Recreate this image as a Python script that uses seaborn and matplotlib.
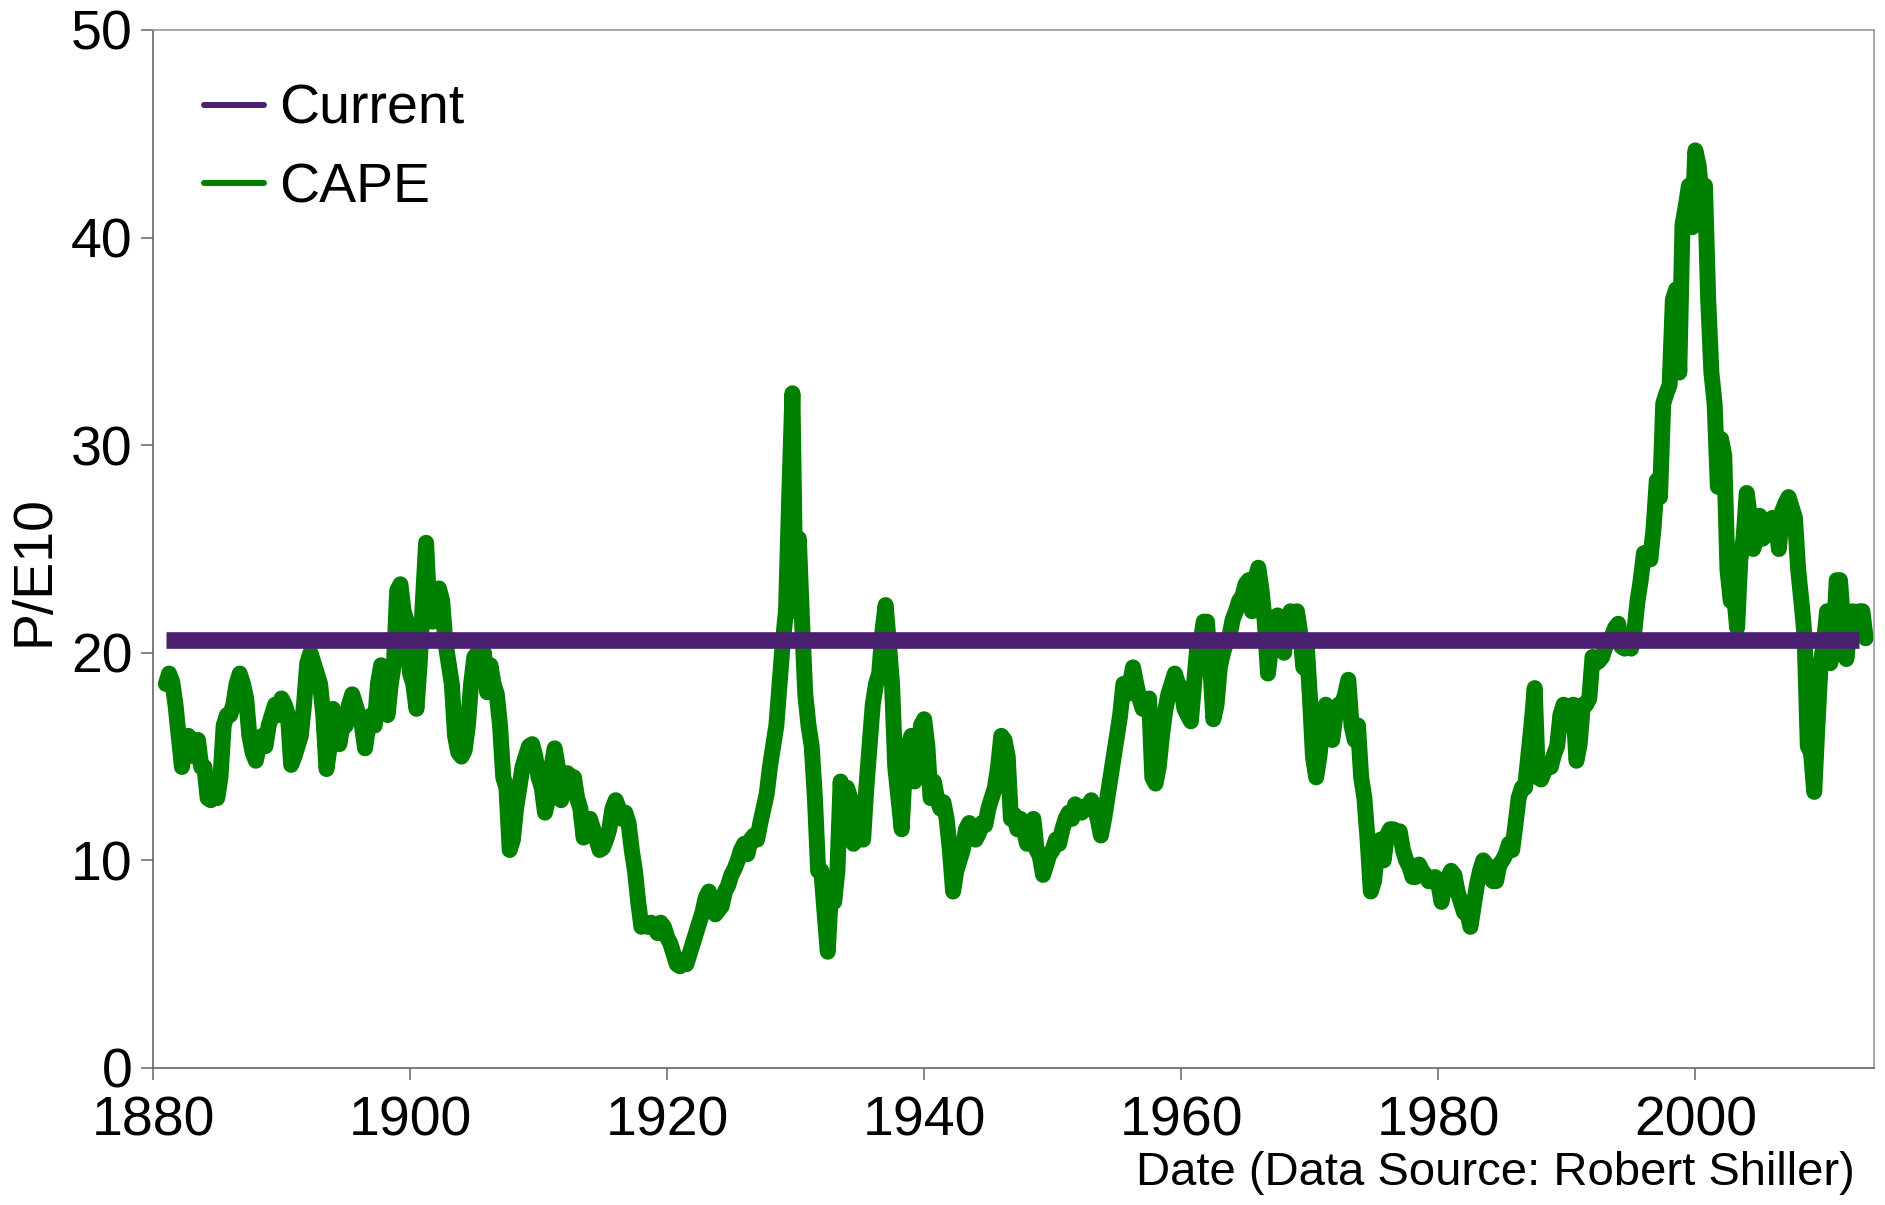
import numpy as np
import seaborn as sns
import matplotlib.pyplot as plt
from matplotlib.lines import Line2D

# Shiller CAPE (P/E10), quarterly readings starting Jan 1881
start_year = 1881
cape = [
    18.5, 19.0, 18.6, 17.5,  # 1881
    16.0, 14.5, 15.5, 16.0,  # 1882
    15.8, 15.0, 15.8, 14.5,  # 1883
    14.5, 13.0, 12.9, 13.3,  # 1884
    13.0, 14.0, 16.5, 17.0,  # 1885
    17.0, 17.5, 18.5, 19.0,  # 1886
    18.5, 17.8, 16.0, 15.2,  # 1887
    14.8, 15.5, 16.0, 15.5,  # 1888
    16.5, 17.0, 17.5, 17.0,  # 1889
    17.8, 17.5, 17.0, 14.6,  # 1890
    15.0, 15.5, 16.0, 17.5,  # 1891
    19.5, 20.0, 19.5, 19.0,  # 1892
    18.5, 17.0, 14.4, 15.5,  # 1893
    17.3, 16.5, 15.6, 16.5,  # 1894
    16.5, 17.5, 18.0, 17.5,  # 1895
    17.0, 16.5, 15.4, 16.5,  # 1896
    17.0, 16.5, 18.5, 19.4,  # 1897
    18.0, 17.0, 18.5, 19.5,  # 1898
    23.0, 23.3, 22.0, 21.5,  # 1899
    19.0, 18.5, 17.3, 19.5,  # 1900
    22.5, 25.3, 22.0, 21.5,  # 1901
    22.5, 23.1, 22.5, 20.5,  # 1902
    19.5, 18.5, 16.0, 15.2,  # 1903
    15.0, 15.3, 16.5, 18.5,  # 1904
    19.8, 20.0, 19.5, 20.0,  # 1905
    18.1, 19.4, 18.5, 18.0,  # 1906
    16.5, 14.0, 13.5, 10.5,  # 1907
    11.0, 12.5, 13.5, 14.5,  # 1908
    15.0, 15.5, 15.6, 15.0,  # 1909
    14.0, 13.5, 12.3, 13.0,  # 1910
    14.5, 15.4, 14.5, 12.9,  # 1911
    13.5, 14.2, 14.0, 14.0,  # 1912
    13.0, 12.5, 11.1, 12.0,  # 1913
    12.0, 11.5, 11.0, 10.5,  # 1914
    10.6, 11.0, 11.5, 12.5,  # 1915
    12.9, 12.5, 12.0, 12.3,  # 1916
    11.8, 10.5, 9.5, 8.0,    # 1917
    6.8, 7.0, 6.8, 7.0,      # 1918
    6.8, 6.5, 7.0, 6.8,      # 1919
    6.3, 6.0, 5.5, 5.0,      # 1920
    4.9, 5.2, 5.0, 5.5,      # 1921
    6.0, 6.5, 7.0, 7.5,      # 1922
    8.2, 8.5, 7.8, 7.4,      # 1923
    7.6, 7.8, 8.5, 8.8,      # 1924
    9.3, 9.6, 10.0, 10.5,    # 1925
    10.8, 10.3, 11.0, 11.2,  # 1926
    11.0, 11.8, 12.5, 13.2,  # 1927
    14.5, 15.5, 16.5, 18.5,  # 1928
    20.5, 22.0, 27.5, 32.5,  # 1929
    22.0, 25.5, 21.5, 18.0,  # 1930
    16.5, 15.5, 13.0, 9.5,   # 1931
    9.5, 7.5, 5.6, 8.5,      # 1932
    8.0, 9.5, 13.8, 11.5,    # 1933
    13.5, 13.0, 10.8, 11.0,  # 1934
    11.5, 11.0, 13.5, 15.5,  # 1935
    17.5, 18.5, 19.0, 21.0,  # 1936
    22.3, 20.5, 18.5, 14.5,  # 1937
    13.0, 11.5, 14.5, 15.5,  # 1938
    16.0, 13.8, 14.5, 16.5,  # 1939
    16.8, 15.5, 13.0, 13.8,  # 1940
    13.0, 12.5, 12.8, 12.0,  # 1941
    10.5, 8.5, 9.5, 10.0,    # 1942
    10.5, 11.5, 11.8, 11.3,  # 1943
    11.0, 11.3, 11.8, 11.7,  # 1944
    12.5, 13.0, 13.5, 14.5,  # 1945
    16.0, 15.8, 15.0, 12.0,  # 1946
    12.2, 11.5, 12.0, 11.5,  # 1947
    10.8, 11.5, 12.0, 10.5,  # 1948
    10.2, 9.3, 9.8, 10.3,    # 1949
    10.5, 11.0, 10.8, 11.5,  # 1950
    12.0, 12.3, 12.0, 12.7,  # 1951
    12.5, 12.3, 12.6, 12.5,  # 1952
    12.9, 12.5, 12.0, 11.2,  # 1953
    12.0, 13.0, 14.0, 15.0,  # 1954
    16.0, 17.0, 18.5, 18.0,  # 1955
    18.5, 19.3, 18.5, 17.8,  # 1956
    17.3, 17.5, 17.8, 14.0,  # 1957
    13.7, 14.5, 16.0, 17.2,  # 1958
    18.0, 18.5, 19.0, 18.5,  # 1959
    18.3, 17.3, 17.0, 16.7,  # 1960
    18.5, 20.3, 20.5, 21.5,  # 1961
    21.5, 19.5, 16.8, 17.5,  # 1962
    19.3, 20.0, 20.5, 20.8,  # 1963
    21.6, 22.0, 22.5, 22.7,  # 1964
    23.3, 23.5, 22.0, 23.5,  # 1965
    24.1, 23.0, 21.5, 19.0,  # 1966
    20.4, 21.5, 21.8, 21.0,  # 1967
    20.0, 21.5, 22.0, 21.8,  # 1968
    22.0, 21.0, 19.3, 20.5,  # 1969
    18.0, 15.0, 14.0, 15.0,  # 1970
    16.5, 17.5, 16.0, 15.8,  # 1971
    17.0, 17.5, 17.5, 18.0,  # 1972
    18.7, 16.5, 15.8, 16.5,  # 1973
    14.0, 13.0, 11.0, 8.5,   # 1974
    9.0, 10.5, 11.0, 10.0,   # 1975
    11.2, 11.5, 11.5, 11.2,  # 1976
    11.4, 10.5, 10.0, 9.7,   # 1977
    9.2, 9.2, 9.8, 9.5,      # 1978
    9.3, 9.0, 9.0, 9.2,      # 1979
    8.9, 8.0, 8.8, 9.2,      # 1980
    9.5, 9.3, 8.5, 8.0,      # 1981
    7.5, 7.5, 6.8, 7.8,      # 1982
    8.8, 9.5, 10.0, 9.8,     # 1983
    9.5, 9.0, 9.0, 9.8,      # 1984
    10.0, 10.3, 10.8, 10.5,  # 1985
    11.7, 13.0, 13.5, 13.5,  # 1986
    15.0, 16.5, 18.3, 14.0,  # 1987
    13.9, 14.3, 14.5, 14.5,  # 1988
    15.1, 15.5, 17.0, 17.5,  # 1989
    17.1, 16.5, 17.5, 14.8,  # 1990
    15.6, 17.5, 17.5, 17.8,  # 1991
    19.8, 19.5, 19.6, 19.8,  # 1992
    20.3, 20.5, 20.8, 21.2,  # 1993
    21.4, 20.3, 20.2, 20.5,  # 1994
    20.2, 21.0, 22.5, 23.5,  # 1995
    24.8, 24.5, 24.5, 26.0,  # 1996
    28.3, 27.5, 32.0, 32.5,  # 1997
    32.9, 37.0, 37.5, 33.5,  # 1998
    40.6, 41.5, 42.5, 40.5,  # 1999
    44.2, 43.5, 42.0, 42.5,  # 2000
    37.0, 33.5, 32.0, 28.0,  # 2001
    30.3, 29.5, 24.0, 22.5,  # 2002
    22.9, 21.2, 24.5, 25.5,  # 2003
    27.7, 26.5, 25.0, 25.5,  # 2004
    26.6, 25.5, 26.0, 25.7,  # 2005
    26.5, 26.5, 25.0, 26.8,  # 2006
    27.2, 27.5, 27.0, 26.5,  # 2007
    24.0, 22.5, 20.8, 15.5,  # 2008
    15.2, 13.3, 16.5, 19.5,  # 2009
    20.5, 22.0, 19.5, 20.5,  # 2010
    23.5, 23.5, 21.5, 19.7,  # 2011
    21.2, 22.0, 21.0, 22.0,  # 2012
    22.0, 20.7,              # 2013
]
current_pe = 20.6
year_ticks = [1880, 1900, 1920, 1940, 1960, 1980, 2000]
pe_ticks = [0, 10, 20, 30, 40, 50]

cape_green = '#008000'
current_purple = '#4b1f6f'

years = start_year + np.arange(len(cape)) / 4
current_years = years[:-2]
current_vals = [current_pe] * len(current_years)

sns.set_style('white')
plt.rcParams['font.family'] = ['Liberation Sans', 'DejaVu Sans']
plt.rcParams['text.color'] = 'black'

fig = plt.figure(figsize=(18.85, 12.05), dpi=100)
ax = fig.add_axes([153 / 1885, 1 - 1068 / 1205, 1721 / 1885, 1038 / 1205])

sns.lineplot(x=years, y=cape, ax=ax, color=cape_green, lw=11.5,
             solid_capstyle='round', solid_joinstyle='round')
sns.lineplot(x=current_years, y=current_vals, ax=ax, color=current_purple,
             lw=12, solid_capstyle='butt')

ax.set_xlim(1880, 2013.9)
ax.set_ylim(0, 50)
ax.set_xticks(year_ticks)
ax.set_yticks(pe_ticks)
ax.tick_params(axis='both', direction='out', length=8.6, width=1.1,
               color='#666666', labelcolor='black', labelsize=40,
               bottom=True, left=True, top=False, right=False)
ax.tick_params(axis='y', pad=6)
ax.tick_params(axis='x', pad=11)

for side in ['left', 'bottom']:
    ax.spines[side].set_color('#666666')
    ax.spines[side].set_linewidth(1.2)
for side in ['top', 'right']:
    ax.spines[side].set_color('#999999')
    ax.spines[side].set_linewidth(1.2)

ax.set_ylabel('P/E10', fontsize=40, color='black')
ax.yaxis.set_label_coords(-0.054, 0.479)
ax.set_xlabel('')
fig.text(1855 / 1885, 1 - 1185 / 1205, 'Date (Data Source: Robert Shiller)',
         ha='right', va='baseline', fontsize=34, color='black')

handles = [Line2D([], [], color=current_purple, lw=4.3),
           Line2D([], [], color=cape_green, lw=4.3)]
leg = ax.legend(handles, ['Current', 'CAPE'], loc='upper left',
                bbox_to_anchor=(0.0296, 0.948), frameon=False, fontsize=40,
                handlelength=1.08, handletextpad=0.27, labelspacing=0.47,
                borderaxespad=0, borderpad=0)
for t in leg.get_texts():
    t.set_color('black')

fig.savefig('out.png', dpi=100)
